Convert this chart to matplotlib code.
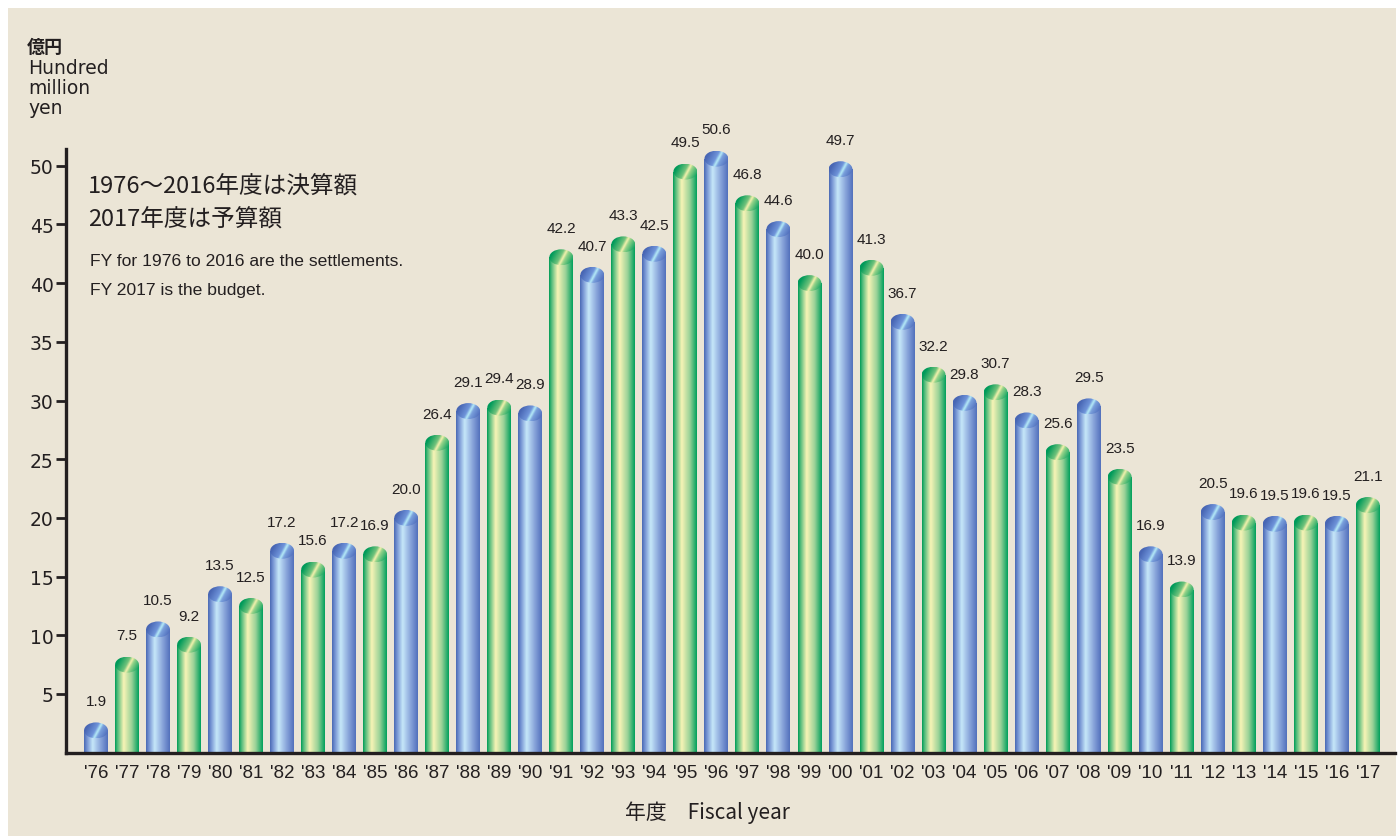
import numpy as np
import matplotlib
matplotlib.use('Agg')
import matplotlib.pyplot as plt
from matplotlib.colors import LinearSegmentedColormap
from matplotlib.patches import Rectangle, Ellipse

years = ["'76", "'77", "'78", "'79", "'80", "'81", "'82", "'83", "'84", "'85",
         "'86", "'87", "'88", "'89", "'90", "'91", "'92", "'93", "'94", "'95",
         "'96", "'97", "'98", "'99", "'00", "'01", "'02", "'03", "'04", "'05",
         "'06", "'07", "'08", "'09", "'10", "'11", "'12", "'13", "'14", "'15",
         "'16", "'17"]
values = [1.9, 7.5, 10.5, 9.2, 13.5, 12.5, 17.2, 15.6, 17.2, 16.9,
          20.0, 26.4, 29.1, 29.4, 28.9, 42.2, 40.7, 43.3, 42.5, 49.5,
          50.6, 46.8, 44.6, 40.0, 49.7, 41.3, 36.7, 32.2, 29.8, 30.7,
          28.3, 25.6, 29.5, 23.5, 16.9, 13.9, 20.5, 19.6, 19.5, 19.6,
          19.5, 21.1]
yticks = [5, 10, 15, 20, 25, 30, 35, 40, 45, 50]

jp = ['Noto Sans CJK JP', 'DejaVu Sans']
latin = ['Liberation Sans', 'Noto Sans CJK JP']
plt.rcParams['font.family'] = jp
ink = '#231f20'

W, H = 1398, 837
fig = plt.figure(figsize=(W / 100, H / 100), dpi=100)
fig.patch.set_facecolor('white')
bg = '#ebe5d6'
fig.patches.append(Rectangle((8 / W, 0), (1396 - 8) / W, 1 - 9 / H,
                             transform=fig.transFigure, facecolor=bg,
                             edgecolor='none', zorder=-10))

# axes placed in pixel layout
x0, x1 = 66, 1395
ybase, ytop = 753.7, 150
ax = fig.add_axes([x0 / W, 1 - ybase / H, (x1 - x0) / W, (ybase - ytop) / H])
ax.set_facecolor('none')

px_per_bar = 31.02
xmin = -(96 - x0) / px_per_bar
xmax = xmin + (x1 - x0) / px_per_bar
ymax = (ybase - ytop) / 11.74

bw = 0.77
eh = 1.36

blue_body = LinearSegmentedColormap.from_list('bb', [
    (0, '#4a69b4'), (0.12, '#7492d2'), (0.36, '#c6e7f9'),
    (0.7, '#88a4da'), (1, '#5270bc')])
green_body = LinearSegmentedColormap.from_list('gb', [
    (0, '#009c56'), (0.1, '#4fba7a'), (0.36, '#f8f4b6'),
    (0.7, '#9ad298'), (1, '#00a05c')])
blue_cap = LinearSegmentedColormap.from_list('bc', [
    (0, '#4866b4'), (0.42, '#6f94da'), (0.55, '#b6ecf8'),
    (0.66, '#7aa0dc'), (1, '#5270be')])
green_cap = LinearSegmentedColormap.from_list('gc', [
    (0, '#009a5a'), (0.42, '#72c37c'), (0.55, '#f6f2ae'),
    (0.66, '#96d38a'), (1, '#18a664')])

body_grad = np.linspace(0, 1, 128).reshape(1, -1)
s, r = np.meshgrid(np.linspace(-1, 1, 64), np.linspace(1, -1, 32))
cap_grad = np.clip(0.5 + 0.5 * (s - 0.1 - 0.35 * r), 0, 1)

for i, v in enumerate(values):
    body_cm = blue_body if i % 2 == 0 else green_body
    cap_cm = blue_cap if i % 2 == 0 else green_cap
    im = ax.imshow(body_grad, cmap=body_cm, aspect='auto',
                   extent=(i - bw / 2, i + bw / 2, 0, v), zorder=2,
                   interpolation='bilinear')
    im.set_clip_path(Rectangle((i - bw / 2, 0), bw, v, transform=ax.transData))
    cap = ax.imshow(cap_grad, cmap=cap_cm, aspect='auto',
                    extent=(i - bw / 2, i + bw / 2, v - eh / 2, v + eh / 2),
                    zorder=3, interpolation='bilinear')
    cap.set_clip_path(Ellipse((i, v), bw, eh, transform=ax.transData))
    ax.annotate(f'{v:.1f}', (i, v), xytext=(0, 21), textcoords='offset points',
                ha='center', va='center', fontsize=11, family=latin,
                color=ink)

ax.set_xlim(xmin, xmax)
ax.set_ylim(0, ymax)

for side in ['top', 'right']:
    ax.spines[side].set_visible(False)
for side in ['left', 'bottom']:
    ax.spines[side].set_linewidth(2.4)
    ax.spines[side].set_color(ink)
    ax.spines[side].set_zorder(5)

ax.set_yticks(yticks)
ax.set_yticklabels([str(t) for t in yticks], family='DejaVu Sans', fontsize=13.5,
                   color=ink)
ax.tick_params(axis='y', direction='out', length=7, width=2, color=ink, pad=2)
ax.set_xticks(range(len(years)))
ax.set_xticklabels(years, family=latin, fontsize=13.5, color=ink)
ax.tick_params(axis='x', length=0, pad=8)


def ftext(x, y, s, **kw):
    fig.text(x / W, 1 - y / H, s, **kw)


ftext(27, 47, '億円', fontsize=13, fontweight='bold', va='center', color=ink)
ftext(28, 69, 'Hundred', fontsize=13.5, family='DejaVu Sans', va='center', color=ink)
ftext(28, 89, 'million', fontsize=13.5, family='DejaVu Sans', va='center', color=ink)
ftext(28, 109, 'yen', fontsize=13.5, family='DejaVu Sans', va='center', color=ink)

ftext(88, 187, '1976〜2016年度は決算額', fontsize=17, va='center', color=ink)
ftext(88, 220, '2017年度は予算額', fontsize=17, va='center', color=ink)
ftext(90, 262, 'FY for 1976 to 2016 are the settlements.', fontsize=12.6,
      family=latin, va='center', color=ink)
ftext(90, 290, 'FY 2017 is the budget.', fontsize=12.6,
      family=latin, va='center', color=ink)

ftext(707, 813, '年度\u3000Fiscal year', fontsize=15, ha='center', va='center',
      color=ink)

fig.savefig('out.png', dpi=100, facecolor=fig.get_facecolor())
